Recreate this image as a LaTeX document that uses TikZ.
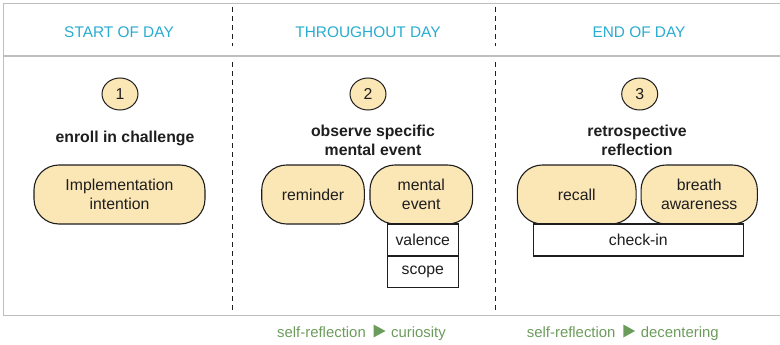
\documentclass[tikz,border=0pt]{standalone}
\usepackage{fontspec}
\setmainfont{Liberation Sans}
\usetikzlibrary{shapes.geometric}

\definecolor{framegray}{RGB}{190,190,190}
\definecolor{ink}{RGB}{30,30,30}
\definecolor{peach}{RGB}{251,230,182}
\definecolor{phasecyan}{RGB}{40,172,208}
\definecolor{leafgreen}{RGB}{108,156,92}

\newcommand{\txtsize}{\fontsize{15.8}{18.5}\selectfont}
\newcommand{\headsize}{\fontsize{15.4}{18}\selectfont}
\newcommand{\notesize}{\fontsize{14.9}{18}\selectfont}

\tikzset{
  frameline/.style={draw=framegray, line width=1.6pt},
  divider/.style={draw=ink, line width=1.2pt, dash pattern=on 5pt off 4pt},
  phase/.style={text=phasecyan, font=\headsize, inner sep=0pt},
  badge/.style={ellipse, draw=ink, fill=peach, line width=1pt,
    minimum width=36pt, minimum height=32pt, inner sep=0pt,
    font=\txtsize, text=ink},
  stagelabel/.style={font=\txtsize\bfseries, text=ink, align=center, inner sep=0pt},
  pill/.style={draw=ink, fill=peach, line width=1.1pt, rounded corners=25pt,
    align=center, inner sep=0pt, minimum height=59pt, font=\txtsize, text=ink},
  tagbox/.style={draw=ink, fill=white, line width=1.1pt, inner sep=0pt,
    font=\txtsize, text=ink},
  outcome/.style={text=leafgreen, font=\notesize, inner sep=0pt},
}

\begin{document}
\begin{tikzpicture}[x=1pt, y=-1pt]
  \useasboundingbox (0,0) rectangle (780,345);

  % frame: top, header rule, left and bottom edges
  \draw[frameline] (780,3.5) -- (3.5,3.5) -- (3.5,315.5) -- (780,315.5);
  \draw[frameline] (3.5,56) -- (780,56);

  % column dividers
  \draw[divider] (232.5,7) -- (232.5,46);
  \draw[divider] (232.5,62) -- (232.5,313);
  \draw[divider] (495.5,7) -- (495.5,46);
  \draw[divider] (495.5,62) -- (495.5,313);

  % phase headings
  \node[phase, anchor=base] (h1) at (119,37.3) {START OF DAY};
  \node[phase, anchor=base] (h2) at (368,37.3) {THROUGHOUT DAY};
  \node[phase, anchor=base] (h3) at (639,37.3) {END OF DAY};

  % numbered steps
  \node[badge] (b1) at (120,94) {1};
  \node[badge] (b2) at (368,94) {2};
  \node[badge] (b3) at (639.7,94) {3};

  \node[stagelabel, anchor=base] (s1) at (125,142.5) {enroll in challenge};
  \node[stagelabel] (s2) at (373,140.5) {observe specific\\mental event};
  \node[stagelabel] (s3) at (637,140.5) {retrospective\\reflection};

  % start of day
  \node[pill, minimum width=171pt] (impl) at (119.5,194.5) {Implementation\\intention};

  % throughout day
  \node[pill, minimum width=102.6pt] (remind) at (313,194.5) {reminder};
  \node[pill, minimum width=102.7pt] (mental) at (421.3,194.5) {mental\\event};
  \node[tagbox, minimum width=71pt, minimum height=32pt] (valence) at (422.8,240) {valence};
  \node[tagbox, minimum width=71pt, minimum height=31.5pt] (scope) at (422.8,271.7) {scope};

  % end of day
  \node[pill, minimum width=118.7pt] (recall) at (576.7,194.5) {recall};
  \node[pill, minimum width=116.3pt] (breath) at (699.2,194.5) {breath\\awareness};
  \node[tagbox, minimum width=210pt, minimum height=32pt] (checkin) at (638.3,240) {check-in};

  % outcomes
  \node[outcome, anchor=base east] (o1a) at (366,337) {self-reflection};
  \node[outcome, anchor=base west] (o1b) at (391,337) {curiosity};
  \fill[leafgreen] (373.5,324.5) -- (385.5,331) -- (373.5,337.5) -- cycle;

  \node[outcome, anchor=base east] (o2a) at (615.7,337) {self-reflection};
  \node[outcome, anchor=base west] (o2b) at (640.7,337) {decentering};
  \fill[leafgreen] (623.3,324.5) -- (635,331) -- (623.3,337.5) -- cycle;
\end{tikzpicture}
\end{document}
